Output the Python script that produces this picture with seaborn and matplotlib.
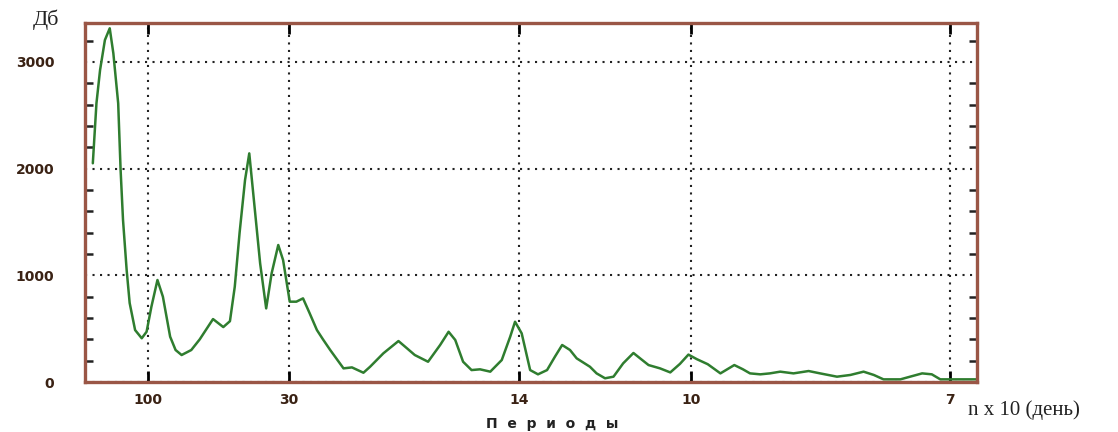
import numpy as np
import pandas as pd
import matplotlib
matplotlib.use("Agg")
import matplotlib.pyplot as plt
from matplotlib.ticker import MultipleLocator, FixedLocator
import seaborn as sns

# Spectrum: frequency (1 / period, period in units of 10 days) and power (dB)
freq = [0.0009, 0.0015, 0.0021, 0.0029, 0.0037, 0.0043, 0.0051, 0.0055, 0.0059,
        0.0065, 0.0070, 0.0079, 0.0090, 0.0098, 0.0106, 0.0116, 0.0125, 0.0137,
        0.0146, 0.0156, 0.0172, 0.0186, 0.0208, 0.0225, 0.0236, 0.0244, 0.0252,
        0.0261, 0.0268, 0.0274, 0.0286, 0.0296, 0.0305, 0.0316, 0.0324, 0.0335,
        0.0346, 0.0357, 0.0368, 0.0380, 0.0390, 0.0402, 0.0424, 0.0438, 0.0457,
        0.0468, 0.0490, 0.0515, 0.0526, 0.0542, 0.0564, 0.0584, 0.0598, 0.0609,
        0.0622, 0.0636, 0.0650, 0.0667, 0.0686, 0.0700, 0.0708, 0.0719, 0.0733,
        0.0746, 0.0761, 0.0774, 0.0786, 0.0799, 0.0810, 0.0832, 0.0843, 0.0857,
        0.0871, 0.0887, 0.0904, 0.0915, 0.0929, 0.0948, 0.0965, 0.0981, 0.0995,
        0.1009, 0.1027, 0.1048, 0.1071, 0.1085, 0.1097, 0.1114, 0.1130, 0.1147,
        0.1169, 0.1194, 0.1213, 0.1241, 0.1263, 0.1285, 0.1302, 0.1318, 0.1346,
        0.1362, 0.1382, 0.1398, 0.1412, 0.1429, 0.1474]
power = [2050, 2612, 2924, 3205, 3315, 3080, 2612, 1987, 1518,
         1050, 740, 487, 410, 471, 706, 956, 800, 425,
         300, 253, 300, 400, 590, 515, 570, 893, 1400,
         1893, 2143, 1800, 1112, 690, 1018, 1284, 1143, 753,
         753, 784, 644, 487, 400, 300, 128, 137, 87,
         143, 269, 384, 331, 253, 190, 347, 471, 394,
         190, 112, 119, 97, 206, 425, 565, 456, 112,
         72, 112, 237, 347, 300, 222, 143, 81, 35,
         50, 175, 272, 222, 159, 128, 90, 170, 257,
         214, 167, 81, 159, 120, 81, 72, 81, 97,
         81, 103, 81, 50, 66, 97, 66, 25, 25,
         50, 81, 72, 25, 25, 25]

period_ticks = [100, 30, 14, 10, 7]
period_labels = ["100", "30", "14", "10", "7"]
power_ticks = [0, 1000, 2000, 3000]

df = pd.DataFrame({"freq": freq, "power": power})

sns.set_style("white")
plt.rcParams["font.family"] = ["DejaVu Sans"]

fig = plt.figure(figsize=(11.18, 4.32), dpi=100)
ax = fig.add_axes([0.076, 0.1157, 0.798, 0.8311])

sns.lineplot(data=df, x="freq", y="power", ax=ax, color="#2f7d2f",
             linewidth=1.8, estimator=None, sort=False)

ax.set_xlim(-0.0004, 0.1473)
ax.set_ylim(0, 3365)

# axes frame
spine_color = "#9a5646"
for side in ["left", "right", "top", "bottom"]:
    ax.spines[side].set_visible(True)
    ax.spines[side].set_color(spine_color)
    ax.spines[side].set_linewidth(2.4)

# x axis: periods placed at their frequencies
xt = [1.0 / p for p in period_ticks]
ax.xaxis.set_major_locator(FixedLocator(xt))
ax.set_xticklabels(period_labels)
ax.yaxis.set_major_locator(FixedLocator(power_ticks))
ax.yaxis.set_minor_locator(MultipleLocator(200))

label_color = "#3a2214"
ax.tick_params(axis="x", which="major", direction="in", length=8, width=2,
               color="black", top=True, bottom=True, labelsize=10,
               labelcolor=label_color, pad=8)
ax.tick_params(axis="y", which="major", direction="in", length=0,
               left=True, right=True, labelsize=10, labelcolor=label_color, pad=22)
ax.tick_params(axis="y", which="minor", direction="in", length=6, width=1.8,
               color="#222222", left=True, right=True)
for lab in ax.get_xticklabels() + ax.get_yticklabels():
    lab.set_fontweight("bold")

# dotted grid
ax.grid(True, which="major", axis="both", color="#222222",
        linestyle=(0, (1, 2.6)), linewidth=1.5)

ax.set_xlabel("")
ax.set_ylabel("")

# axis captions
fig.text(33 / 1118, 1 - 20 / 432, "Дб", family="Liberation Serif",
         fontsize=16, color="#222222", va="center", ha="left")
fig.text(968 / 1118, 1 - 410 / 432, "n x 10 (день)", family="Liberation Serif",
         fontsize=15, color="#222222", va="center", ha="left")
fig.text(552 / 1118, 1 - 424 / 432, "П  е  р  и  о  д  ы", fontsize=10,
         fontweight="bold", color="#222222", va="center", ha="center")

fig.savefig("out.png", dpi=100)
